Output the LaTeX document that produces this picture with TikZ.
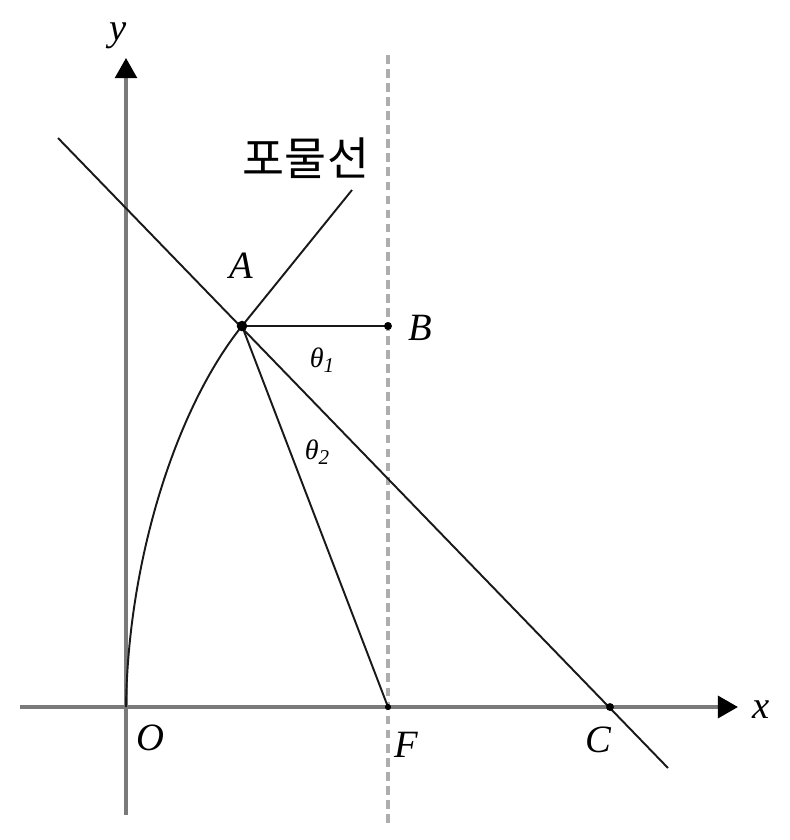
\documentclass[tikz,border=0pt]{standalone}
\usepackage{fontspec}
\setmainfont{Liberation Serif}
\newfontfamily\kr{Noto Sans CJK KR}
\usetikzlibrary{arrows.meta}
\begin{document}
\begin{tikzpicture}[x=0.02cm,y=-0.02cm,
  axis/.style={draw=black!52,line width=2.2pt,-{Triangle[length=11.5pt,width=12.5pt,fill=black,color=black]}},
  guide/.style={draw=black!32,line width=2pt,dash pattern=on 5pt off 3pt},
  ln/.style={draw=black!90,line width=1.1pt},
  dot/.style={circle,fill=black,inner sep=0pt,minimum size=4.5pt},
  lbl/.style={font=\fontsize{22}{24}\selectfont\itshape,inner sep=0pt},
  thl/.style={font=\fontsize{16}{18}\selectfont\itshape,inner sep=0pt}]
\useasboundingbox (0,0) rectangle (790,840);
% coordinates
\coordinate (O) at (126,707);
\coordinate (A) at (242,326);
\coordinate (B) at (388,326);
\coordinate (F) at (388,707);
\coordinate (C) at (610,707);
\coordinate (P) at (352,190);
\coordinate (xs) at (20,707);
\coordinate (xe) at (738,707);
\coordinate (ys) at (126,815);
\coordinate (ye) at (126,58);
\coordinate (ds) at (388,55);
\coordinate (de) at (388,826);
\coordinate (ts) at (58,138);
\coordinate (te) at (668,768);
% guide
\draw[guide] (ds) -- (de);
% axes
\draw[axis] (xs) -- (xe);
\draw[axis,line width=1.8pt] (ys) -- (ye);
% parabola
\draw[ln] (O) .. controls (128,560) and (176,408) .. (A) -- (P);
% tangent and segments
\draw[ln] (ts) -- (te);
\draw[ln] (A) -- (B);
\draw[ln] (A) -- (F);
% dots
\node[dot,minimum size=6pt] (Ad) at (A) {};
\node[dot] (Bd) at (B) {};
\node[dot,minimum size=3.5pt] (Fd) at (F) {};
\node[dot] (Cd) at (C) {};
% labels
\node[lbl] (ylab) at (118,36) {y};
\node[lbl] (xlab) at (761,710) {x};
\node[lbl] (Olab) at (150,738) {O};
\node[lbl] (Flab) at (406,745) {F};
\node[lbl] (Clab) at (598,740) {C};
\node[lbl] (Blab) at (420,328) {B};
\node[lbl] (Alab) at (241,266) {A};
\node[thl] (t1) at (322,360) {θ\raisebox{-0.35ex}{\fontsize{12}{12}\selectfont 1}};
\node[thl] (t2) at (317,452) {θ\raisebox{-0.35ex}{\fontsize{12}{12}\selectfont 2}};
\node[font=\kr\fontsize{26}{28}\selectfont,inner sep=0pt] (par) at (306,158) {포물선};
\end{tikzpicture}
\end{document}
